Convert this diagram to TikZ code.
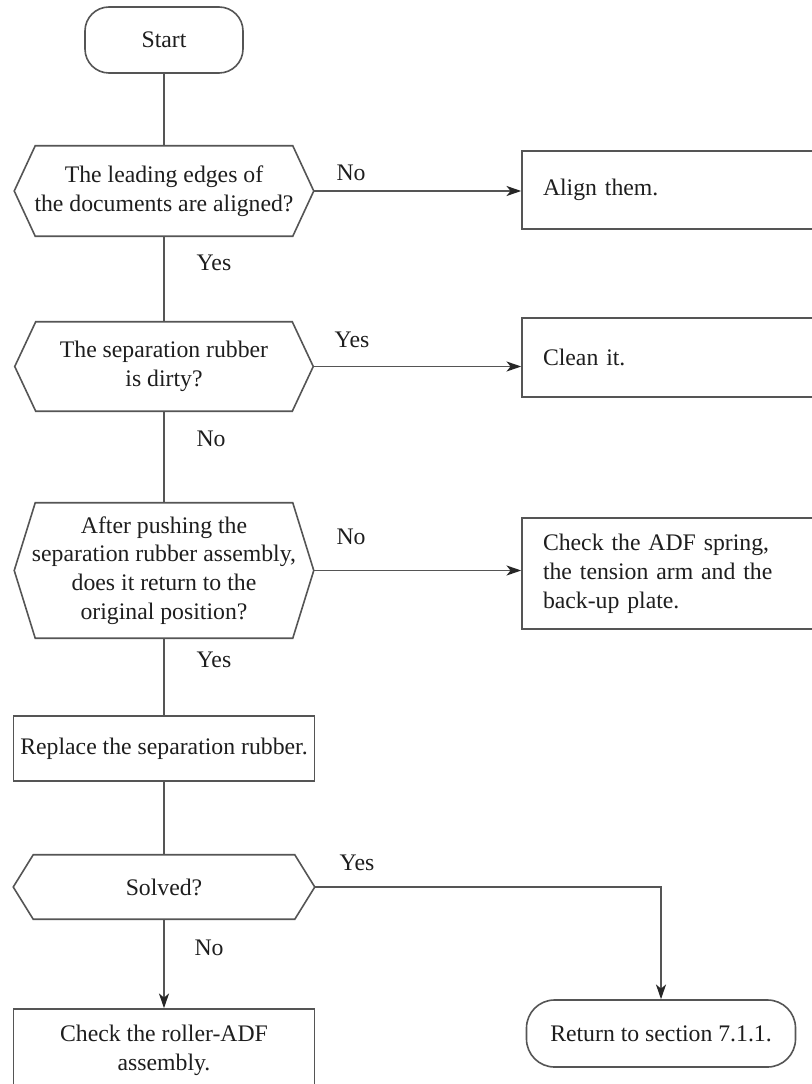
\documentclass[tikz,border=0pt]{standalone}
\usepackage{fontspec}
\setmainfont{Liberation Serif}
\usetikzlibrary{arrows.meta,calc}
\definecolor{lc}{HTML}{555555}
\definecolor{tc}{HTML}{1E1E1E}
\begin{document}
\begin{tikzpicture}[x=0.75pt,y=-0.75pt,
  every node/.style={font=\fontsize{17.8}{21.6}\selectfont, text=tc},
  shp/.style={draw=lc, line width=1.2pt},
  term/.style={shp, minimum width=118.5pt, minimum height=49.5pt},
  decbox/.style={draw=none, inner sep=0pt, align=center},
  procbox/.style={shp, inner sep=0pt, align=center},
  sidebox/.style={shp, inner xsep=15.75pt, inner ysep=0pt, align=left, text width=199.5pt, minimum width=231pt},
  lbl/.style={inner sep=0pt},
  conn/.style={draw=lc, line width=1.2pt},
  arr/.style={conn, -{Stealth[length=11pt, width=7.5pt, inset=3pt, color=black!85]}}
]
\clip (0,0) rectangle (812,1084);
\useasboundingbox (0,0) rectangle (812,1084);
\fill[white] (0,0) rectangle (812,1084);

% nodes
\node[term, rounded corners=18pt] (start) at (164,40) {Start};

\node[decbox, minimum width=224.25pt, minimum height=67.5pt] (d1) at (164,191)
  {The leading edges of\\the documents are aligned?};
\node[sidebox, minimum height=58.5pt] (a1) at (676,190) {Align them.};

\node[decbox, minimum width=223.5pt, minimum height=66.75pt] (d2) at (164,366.5)
  {The separation rubber\\is dirty?};
\node[sidebox, minimum height=59.25pt] (a2) at (676,357.5) {Clean it.};

\node[decbox, minimum width=224.25pt, minimum height=101.25pt] (d3) at (164,570.5)
  {After pushing the\\separation rubber assembly,\\does it return to the\\original position?};
\node[sidebox, minimum height=83.25pt] (a3) at (676,573.5)
  {Check the ADF spring,\\the tension arm and the\\back-up plate.};

\node[procbox, minimum width=225.75pt, minimum height=48.75pt] (rep) at (164,748.5)
  {Replace the separation rubber.};

\node[decbox, minimum width=225.75pt, minimum height=48pt] (sol) at (164,887) {Solved?};

\node[procbox, minimum width=225.75pt, minimum height=61.5pt] (roll) at (164,1050)
  {Check the roller-ADF\\assembly.};

\node[term, rounded corners=21pt, minimum width=201.75pt, minimum height=50.25pt] (ret) at (661,1033.5)
  {Return to section 7.1.1.};

% hexagon outlines
\foreach \n/\s in {d1/15.75pt, d2/15.75pt, d3/15.75pt, sol/15pt}{
  \draw[shp] (\n.west) -- ([xshift=\s]\n.north west) -- ([xshift=-\s]\n.north east)
    -- (\n.east) -- ([xshift=-\s]\n.south east) -- ([xshift=\s]\n.south west) -- cycle;
}

% connectors
\draw[conn] (start) -- (d1);
\draw[conn] (d1) -- (d2);
\draw[conn] (d2) -- (d3);
\draw[conn] (d3) -- (rep);
\draw[conn] (rep) -- (sol);
\draw[arr] (sol) -- (roll);
\draw[arr] (d1.east) -- (d1.east -| a1.west);
\draw[arr] (d2.east) -- (d2.east -| a2.west);
\draw[arr] (d3.east) -- (d3.east -| a3.west);
\draw[arr] (sol.east) -| (ret.north);

% labels
\node[lbl] (l1) at (351,173) {No};
\node[lbl] (l2) at (214,263) {Yes};
\node[lbl] (l3) at (352,340) {Yes};
\node[lbl] (l4) at (211,439) {No};
\node[lbl] (l5) at (351,537) {No};
\node[lbl] (l6) at (214,660) {Yes};
\node[lbl] (l7) at (357,863) {Yes};
\node[lbl] (l8) at (209,948) {No};
\end{tikzpicture}
\end{document}
